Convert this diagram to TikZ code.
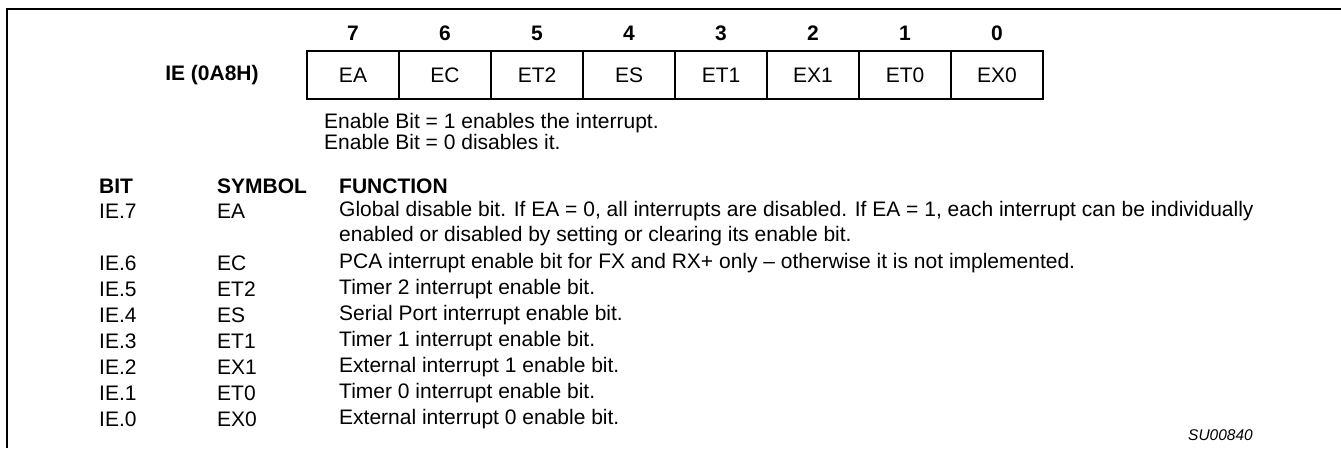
\documentclass[tikz,border=0pt]{standalone}
\usepackage{fontspec}
\setmainfont{Liberation Sans}
\begin{document}
\begin{tikzpicture}[x=1pt,y=-1pt,
  txt/.style={anchor=west,inner sep=0pt,font=\fontsize{21}{23}\selectfont},
  hdr/.style={txt,font=\fontsize{21}{23}\selectfont\bfseries},
  bitnum/.style={inner sep=0pt,font=\fontsize{21}{23}\selectfont\bfseries},
  cell/.style={draw,line width=1.3pt,minimum width=92pt,minimum height=48pt,inner sep=0pt,font=\fontsize{21}{23}\selectfont},
  frame/.style={line width=2.5pt}]
\useasboundingbox (0,0) rectangle (1341,448);
\coordinate (fb) at (7,448);
\coordinate (ftl) at (7,9);
\coordinate (fr) at (1341,9);
\draw[frame] (fb) -- (ftl) -- (fr);
% register
\foreach \lab/\n [count=\k from 0] in {EA/7,EC/6,ET2/5,ES/4,ET1/3,EX1/2,ET0/1,EX0/0}{
  \node[cell] (c\k) at (353+92*\k,75) {\lab};
  \node[bitnum] (n\k) at (353+92*\k,33) {\n};
}
\node[bitnum] (ie) at (212,75) {IE (0A8H)};
\node[txt] (en1) at (324,123) {Enable Bit = 1 enables the interrupt.};
\node[txt] (en0) at (324,142) {Enable Bit = 0 disables it.};
% table
\node[hdr] (hbit) at (99,186) {BIT};
\node[hdr] (hsym) at (217,186) {SYMBOL};
\node[hdr] (hfun) at (339,186) {FUNCTION};
\foreach \b/\s/\f/\y [count=\i] in {
  IE.7/EA/{Global disable bit. If EA = 0, all interrupts are disabled. If EA = 1, each interrupt can be individually}/211,
  IE.6/EC/{PCA interrupt enable bit for FX and RX+ only -- otherwise it is not implemented.}/263,
  IE.5/ET2/{Timer 2 interrupt enable bit.}/289,
  IE.4/ES/{Serial Port interrupt enable bit.}/315,
  IE.3/ET1/{Timer 1 interrupt enable bit.}/341,
  IE.2/EX1/{External interrupt 1 enable bit.}/367,
  IE.1/ET0/{Timer 0 interrupt enable bit.}/393,
  IE.0/EX0/{External interrupt 0 enable bit.}/419}{
  \node[txt] (b\i) at (99,\y) {\b};
  \node[txt] (s\i) at (217,\y) {\s};
  \node[txt] (f\i) at (339,\y) {\f};
}
\node[txt] (f1b) at (339,236) {enabled or disabled by setting or clearing its enable bit.};
\node[txt,font=\fontsize{15.5}{17}\selectfont\itshape] (su) at (1188,435) {SU00840};
\end{tikzpicture}
\end{document}
